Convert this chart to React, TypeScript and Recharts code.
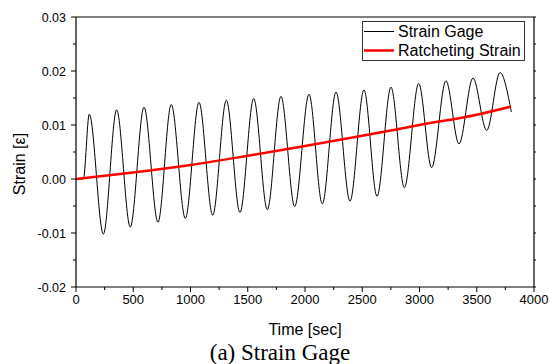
import { LineChart, Line, XAxis, YAxis, Legend, Label } from "recharts"

// values (time in sec, strain in mm/mm)
const gageTime = [
  0, 64, 116, 239, 355, 474, 594, 716, 832, 955, 1074, 1194, 1313, 1432, 1552,
  1671, 1790, 1910, 2035, 2151, 2271, 2393, 2515, 2629, 2751, 2868, 2993, 3106,
  3231, 3345, 3467, 3587, 3703, 3802,
]
const gageStrain = [
  0, 0, 0.012, -0.0102, 0.0128, -0.0089, 0.0133, -0.008, 0.0138, -0.0073,
  0.0142, -0.0067, 0.0146, -0.0062, 0.0149, -0.0057, 0.0153, -0.0051, 0.0157,
  -0.0046, 0.0161, -0.0041, 0.0165, -0.0032, 0.017, -0.0016, 0.0177, 0.0021,
  0.0182, 0.0065, 0.0187, 0.009, 0.0197, 0.0124,
]

const ratchetTime = [0, 500, 1000, 1500, 2000, 2500, 3000, 3500, 3800]
const ratchetStrain = [0, 0.0012, 0.0026, 0.0043, 0.0061, 0.008, 0.01, 0.0119, 0.0134]

const xMajorTicks = [0, 500, 1000, 1500, 2000, 2500, 3000, 3500, 4000]
const xMinorTicks = [250, 750, 1250, 1750, 2250, 2750, 3250, 3750]
const yMajorTicks = [-0.02, -0.01, 0, 0.01, 0.02, 0.03]
const yMinorTicks = [-0.015, -0.005, 0.005, 0.015, 0.025]

const seriesNames = ["Strain Gage", "Ratcheting Strain"]
const seriesColors = ["#000000", "#ff0000"]

const gageData = gageTime.map((t, i) => ({ t, v: gageStrain[i] }))
const ratchetData = ratchetTime.map((t, i) => ({ t, v: ratchetStrain[i] }))
const xTicks = [...xMajorTicks, ...xMinorTicks].sort((a, b) => a - b)
const yTicks = [...yMajorTicks, ...yMinorTicks].sort((a, b) => a - b)

const FONT = '"Liberation Sans", Arial, sans-serif'
const SERIF = '"Liberation Serif", "Times New Roman", serif'

const isMajor = (list: number[], v: number) => list.some((m) => Math.abs(m - v) < 1e-9)

const BottomTick = ({ x, y, payload }: any) => {
  const major = isMajor(xMajorTicks, payload.value)
  return (
    <g>
      <line x1={x} x2={x} y1={y} y2={y + (major ? 5 : 3)} stroke="#000" />
      {major && (
        <text x={x} y={y + 17} textAnchor="middle" fontSize={13} fontFamily={FONT} fill="#000">
          {payload.value}
        </text>
      )}
    </g>
  )
}

const LeftTick = ({ x, y, payload }: any) => {
  const major = isMajor(yMajorTicks, payload.value)
  return (
    <g>
      <line x1={x - (major ? 5 : 3)} x2={x} y1={y} y2={y} stroke="#000" />
      {major && (
        <text x={x - 10} y={y} dy={4.5} textAnchor="end" fontSize={12.5} fontFamily={FONT} fill="#000">
          {payload.value.toFixed(2)}
        </text>
      )}
    </g>
  )
}

const TopTick = ({ x, y }: any) => <line x1={x} x2={x} y1={y} y2={y - 2} stroke="#000" />
const RightTick = ({ x, y }: any) => <line x1={x} x2={x + 2} y1={y} y2={y} stroke="#000" />

const renderLegend = () => (
  <div
    style={{
      width: 163,
      height: 40,
      boxSizing: "border-box",
      border: "1px solid #333",
      background: "#fff",
      fontFamily: FONT,
      fontSize: 16,
      color: "#000",
    }}
  >
    {seriesNames.map((name, i) => (
      <div key={name} style={{ display: "flex", alignItems: "center", height: 19, whiteSpace: "nowrap" }}>
        <svg width={34} height={19} style={{ flexShrink: 0 }}>
          <line x1={1} x2={31} y1={9.5} y2={9.5} stroke={seriesColors[i]} strokeWidth={i === 0 ? 1 : 2.5} />
        </svg>
        <span style={{ marginLeft: 1 }}>{name}</span>
      </div>
    ))}
  </div>
)

export default function App() {
  return (
    <div style={{ position: "absolute", left: 0, top: 0, width: 549, height: 364, background: "#fff" }}>
      <LineChart width={549} height={364} margin={{ top: 15, right: 13, left: 0, bottom: 47 }}>
        <XAxis
          xAxisId="x"
          dataKey="t"
          type="number"
          domain={[0, 4000]}
          ticks={xTicks}
          interval={0}
          height={30}
          tickSize={0}
          tickMargin={0}
          tickLine={false}
          tick={BottomTick}
          axisLine={{ stroke: "#000", strokeWidth: 1.2 }}
          allowDataOverflow
        >
          <Label
            content={() => (
              <g>
                <text x={305} y={335} textAnchor="middle" fontSize={16} fontFamily={FONT} fill="#000">
                  Time [sec]
                </text>
                <text x={280} y={360} textAnchor="middle" fontSize={23} fontFamily={SERIF} fill="#000">
                  (a) Strain Gage
                </text>
              </g>
            )}
          />
        </XAxis>
        <XAxis
          xAxisId="top"
          orientation="top"
          type="number"
          domain={[0, 4000]}
          ticks={xTicks}
          interval={0}
          height={2}
          tickSize={0}
          tickMargin={0}
          tickLine={false}
          tick={TopTick}
          axisLine={{ stroke: "#000", strokeWidth: 1.2 }}
          allowDataOverflow
        />
        <YAxis
          yAxisId="y"
          type="number"
          domain={[-0.02, 0.03]}
          ticks={yTicks}
          interval={0}
          width={76}
          tickSize={0}
          tickMargin={0}
          tickLine={false}
          tick={LeftTick}
          axisLine={{ stroke: "#000", strokeWidth: 1.2 }}
          allowDataOverflow
        >
          <Label
            content={() => (
              <text
                x={19}
                y={164}
                dy={5.6}
                transform="rotate(-90, 19, 164)"
                textAnchor="middle"
                fontSize={16}
                fontFamily={FONT}
                fill="#000"
              >
                Strain [ε]
              </text>
            )}
          />
        </YAxis>
        <YAxis
          yAxisId="right"
          orientation="right"
          type="number"
          domain={[-0.02, 0.03]}
          ticks={yTicks}
          interval={0}
          width={2}
          tickSize={0}
          tickMargin={0}
          tickLine={false}
          tick={RightTick}
          axisLine={{ stroke: "#000", strokeWidth: 1.2 }}
          allowDataOverflow
        />
        <Legend
          layout="vertical"
          align="center"
          verticalAlign="middle"
          content={renderLegend}
          wrapperStyle={{ left: 362, top: 21, width: 163, height: 40 }}
        />
        <Line
          xAxisId="x"
          yAxisId="y"
          data={gageData}
          dataKey="v"
          name={seriesNames[0]}
          type="monotone"
          stroke={seriesColors[0]}
          strokeWidth={1}
          dot={false}
          isAnimationActive={false}
        />
        <Line
          xAxisId="x"
          yAxisId="y"
          data={ratchetData}
          dataKey="v"
          name={seriesNames[1]}
          type="monotone"
          stroke={seriesColors[1]}
          strokeWidth={2.5}
          dot={false}
          isAnimationActive={false}
        />
      </LineChart>
    </div>
  )
}
